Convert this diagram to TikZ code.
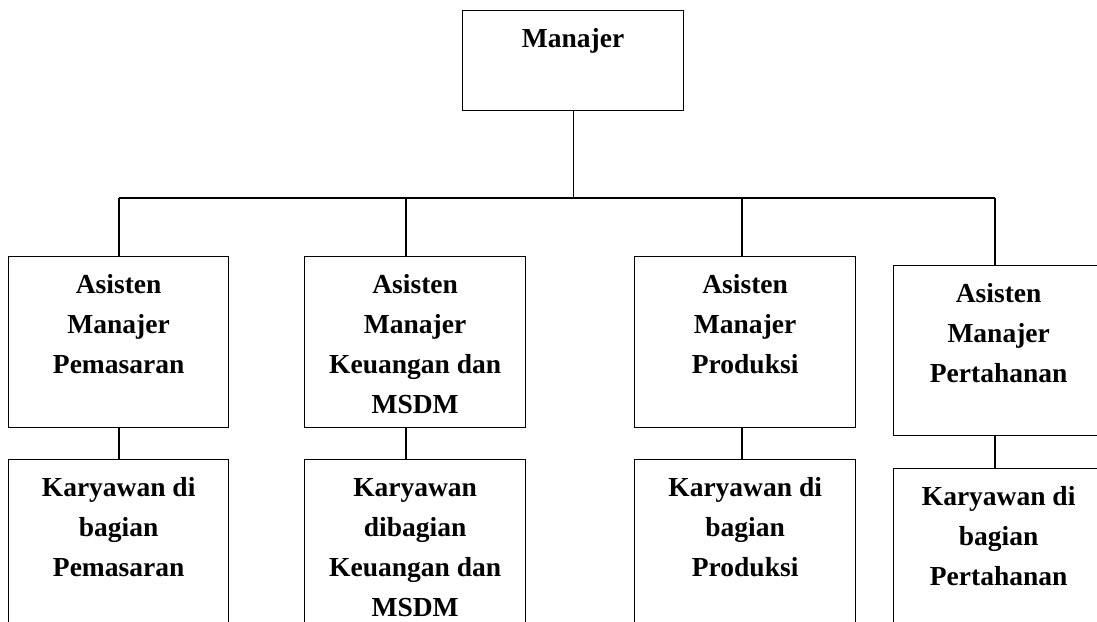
\documentclass[tikz,border=0pt]{standalone}
\usepackage{fontspec}
\setmainfont{Liberation Serif}
\usetikzlibrary{positioning}

\begin{document}
\begin{tikzpicture}[x=1pt,y=-1pt]
\tikzset{
  kotak/.style={draw=black,line width=1.3pt,inner sep=0pt,anchor=north west,
    text width=221pt,align=flush center,text height=37pt,text depth=134pt,
    font=\bfseries\fontsize{27.5}{40}\selectfont},
  garis/.style={black,line width=1.3pt}
}
\useasboundingbox (0,0) rectangle (1097,621);
\clip (0,0) rectangle (1097,621);
\node[kotak,text depth=63pt] (man) at (462,10) {Manajer};
\node[kotak,text width=220pt] (asA) at (8,256) {Asisten\\Manajer\\Pemasaran};
\node[kotak] (asB) at (304,256) {Asisten\\Manajer\\Keuangan dan\\MSDM};
\node[kotak] (asC) at (634,256) {Asisten\\Manajer\\Produksi};
\node[kotak,text width=210pt,text depth=133pt] (asD) at (893,265) {Asisten\\Manajer\\Pertahanan};
\node[kotak,text width=220pt,text depth=170pt] (kA) at (8,459) {Karyawan di\\bagian\\Pemasaran};
\node[kotak,text depth=170pt] (kB) at (304,459) {Karyawan\\dibagian\\Keuangan dan\\MSDM};
\node[kotak,text depth=170pt] (kC) at (634,459) {Karyawan di\\bagian\\Produksi};
\node[kotak,text width=210pt,text depth=170pt] (kD) at (893,468) {Karyawan di\\bagian\\Pertahanan};
% garis struktur
\coordinate (busA) at (119,198);
\coordinate (busB) at (406,198);
\coordinate (busC) at (742,198);
\coordinate (busD) at (995,198);
\draw[garis] (man.south) -- (man.south |- busA);
\draw[garis] (busA) -- (busD);
\foreach \i in {A,B,C,D}{
  \draw[garis] (bus\i) -- (bus\i |- as\i.north);
  \draw[garis] (as\i.south -| bus\i) -- (k\i.north -| bus\i);
}
\end{tikzpicture}
\end{document}
